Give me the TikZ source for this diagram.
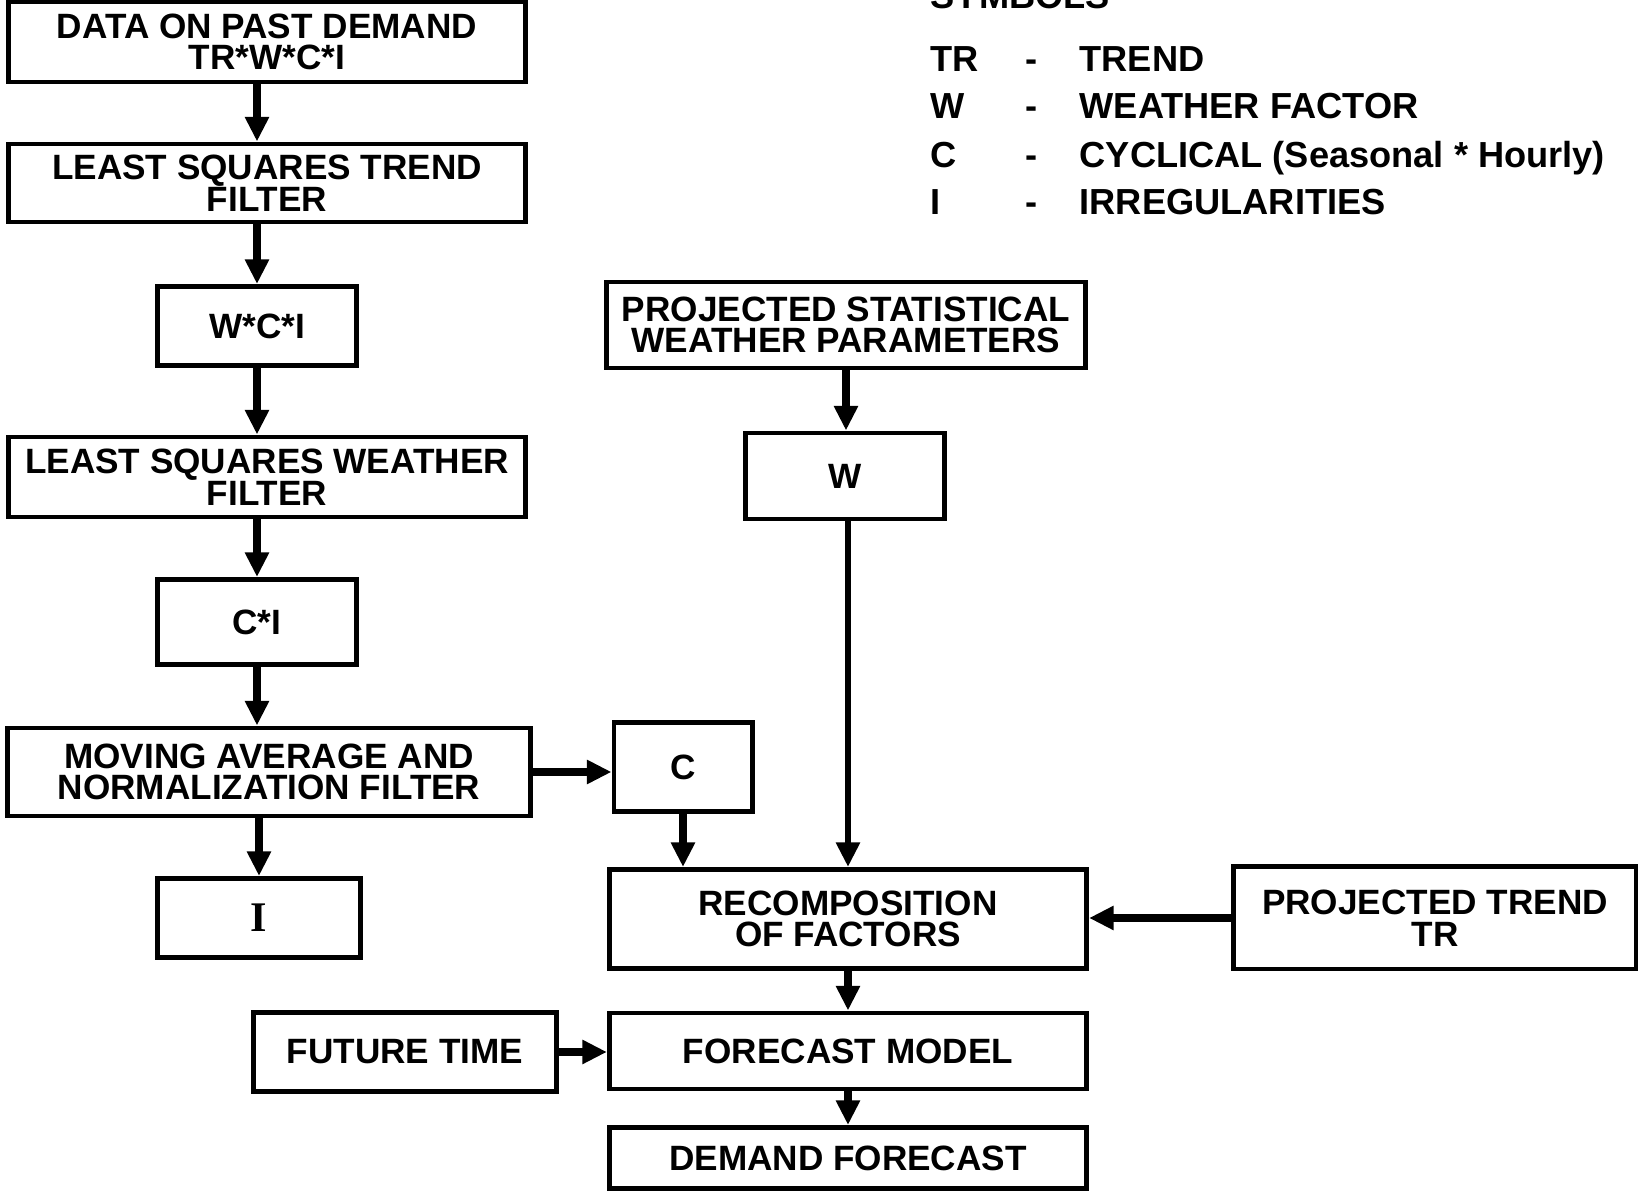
\documentclass[tikz,border=0pt]{standalone}
\usepackage{fontspec}
\setmainfont{Liberation Sans}
\newfontfamily\serifI{Liberation Serif}
\usetikzlibrary{arrows.meta,positioning}

\begin{document}
\begin{tikzpicture}[x=0.01cm,y=-0.01cm,>={Triangle[length=7pt,width=6.5pt]},
  blk/.style={draw,line width=1.4pt,align=center,inner sep=0pt,font=\bfseries\fontsize{10}{9}\selectfont},
  flow/.style={->,line width=2.4pt},
  lgd/.style={anchor=base west,inner sep=0pt,font=\bfseries\fontsize{10.3}{12}\selectfont}]
  \useasboundingbox (0,0) rectangle (1638,1192);
  % left column
  \node[blk,minimum width=5.17cm,minimum height=0.80cm] (data) at (267,42) {DATA ON PAST DEMAND\\TR*W*C*I};
  \node[blk,minimum width=5.17cm,minimum height=0.78cm] (lstrend) at (267,183) {LEAST SQUARES TREND\\FILTER};
  \node[blk,minimum width=1.98cm,minimum height=0.79cm] (wci) at (257,326) {W*C*I};
  \node[blk,minimum width=5.17cm,minimum height=0.80cm] (lsweather) at (267,477) {LEAST SQUARES WEATHER\\FILTER};
  \node[blk,minimum width=1.98cm,minimum height=0.85cm] (ci) at (257,622) {C*I};
  \node[blk,minimum width=5.22cm,minimum height=0.88cm] (movavg) at (269,772) {MOVING AVERAGE AND\\NORMALIZATION FILTER};
  \node[blk,minimum width=2.03cm,minimum height=0.79cm] (irr) at (259,918) {{\serifI\bfseries\fontsize{12}{12}\selectfont I}};
  \node[blk,minimum width=1.38cm,minimum height=0.89cm] (cfac) at (683,767) {C};
  % right column
  \node[blk,minimum width=4.78cm,minimum height=0.86cm] (psw) at (846,325) {PROJECTED STATISTICAL\\WEATHER PARAMETERS};
  \node[blk,minimum width=1.99cm,minimum height=0.86cm] (wfac) at (845,476) {W};
  \node[blk,minimum width=4.77cm,minimum height=0.99cm] (recomp) at (848,919) {RECOMPOSITION\\OF FACTORS};
  \node[blk,minimum width=4.02cm,minimum height=1.02cm] (ptrend) at (1435,918) {PROJECTED TREND\\TR};
  \node[blk,minimum width=3.02cm,minimum height=0.79cm] (future) at (405,1052) {FUTURE TIME};
  \node[blk,minimum width=4.77cm,minimum height=0.76cm] (fmodel) at (848,1051) {FORECAST MODEL};
  \node[blk,minimum width=4.77cm,minimum height=0.61cm] (dfc) at (848,1158) {DEMAND FORECAST};
  % legend
  \node[lgd] (symhead) at (930,9) {SYMBOLS};
  \node[lgd] (sTR) at (930,72) {TR};
  \node[lgd,anchor=base] (dTR) at (1032,72) {-};
  \node[lgd] (tTR) at (1079,72) {TREND};
  \node[lgd] (sW) at (930,119) {W};
  \node[lgd,anchor=base] (dW) at (1032,119) {-};
  \node[lgd] (tW) at (1079,119) {WEATHER FACTOR};
  \node[lgd] (sC) at (930,168) {C};
  \node[lgd,anchor=base] (dC) at (1032,168) {-};
  \node[lgd] (tC) at (1079,168) {CYCLICAL (Seasonal * Hourly)};
  \node[lgd] (sI) at (930,215) {I};
  \node[lgd,anchor=base] (dI) at (1032,215) {-};
  \node[lgd] (tI) at (1079,215) {IRREGULARITIES};
  % connectors
  \draw[flow] (data.south -| wci) -- (lstrend.north -| wci);
  \draw[flow] (lstrend.south -| wci) -- (wci.north);
  \draw[flow] (wci.south) -- (lsweather.north -| wci);
  \draw[flow] (lsweather.south -| ci) -- (ci.north);
  \draw[flow] (ci.south) -- (movavg.north -| ci);
  \draw[flow] (movavg.south -| irr) -- (irr.north);
  \draw[flow] (movavg.east) -- (movavg.east -| cfac.west);
  \draw[flow] (cfac.south) -- (recomp.north -| cfac);
  \draw[flow] (psw.south) -- (wfac.north -| psw);
  \draw[flow,line width=1.8pt] (wfac.south -| recomp) -- (recomp.north);
  \draw[flow] (ptrend.west) -- (recomp.east |- ptrend.west);
  \draw[flow] (recomp.south) -- (fmodel.north);
  \draw[flow] (future.east) -- (fmodel.west |- future.east);
  \draw[flow] (fmodel.south) -- (dfc.north);
\end{tikzpicture}
\end{document}
